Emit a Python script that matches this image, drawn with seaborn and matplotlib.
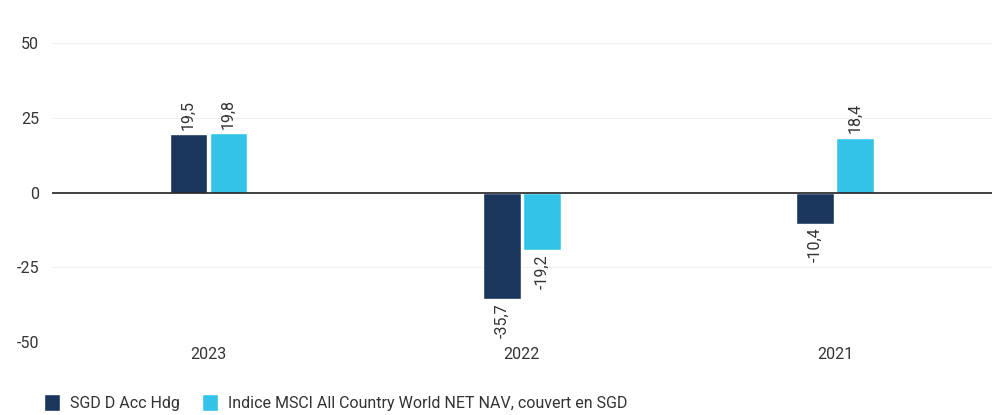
import pandas as pd
import matplotlib
matplotlib.use("Agg")
import matplotlib.pyplot as plt
import seaborn as sns

years = ["2023", "2022", "2021"]
fund_name = "SGD D Acc Hdg"
index_name = "Indice MSCI All Country World NET NAV, couvert en SGD"
fund_values = [19.5, -35.7, -10.4]
index_values = [19.8, -19.2, 18.4]
y_ticks = [-50, -25, 0, 25, 50]

colors = ["#1b365d", "#33c3e8"]

df = pd.DataFrame({
    "year": years * 2,
    "value": fund_values + index_values,
    "series": [fund_name] * 3 + [index_name] * 3,
})

sns.set_theme(style="white")
plt.rcParams["font.family"] = ["Roboto", "DejaVu Sans"]
plt.rcParams["axes.unicode_minus"] = False

fig = plt.figure(figsize=(9.92, 4.15), dpi=100)
ax = fig.add_axes([0.052, 0.176, 0.948, 0.72])

sns.barplot(data=df, x="year", y="value", hue="series", order=years,
            hue_order=[fund_name, index_name], palette=colors,
            width=0.255, gap=0.06, saturation=1, ax=ax, legend=True)

ax.set_xlim(-0.5, 2.5)
ax.set_ylim(-50, 50)
ax.set_yticks(y_ticks)
ax.yaxis.grid(True, color="#efefef", linewidth=0.8)
ax.set_axisbelow(True)
ax.axhline(0, color="#222222", linewidth=1.2, zorder=3)
for s in ax.spines.values():
    s.set_visible(False)
ax.tick_params(axis="both", length=0, labelsize=11.5, colors="#333333")
ax.tick_params(axis="y", pad=9)
ax.set_xlabel("")
ax.set_ylabel("")

for cont in ax.containers:
    for bar in cont:
        v = bar.get_height()
        x = bar.get_x() + bar.get_width() / 2
        txt = f"{v:.1f}".replace(".", ",")
        ax.annotate(txt, (x, v), xytext=(0, 3 if v >= 0 else -3),
                    textcoords="offset points", rotation=90,
                    ha="center", va="bottom" if v >= 0 else "top",
                    fontsize=11.5, color="#333333")

ax.legend(loc="upper left", bbox_to_anchor=(-0.023, -0.125), ncol=2, frameon=False,
          fontsize=11.5, handlelength=1.0, handleheight=1.3, columnspacing=1.4,
          handletextpad=0.6, labelcolor="#333333")

fig.savefig("out.png", dpi=100)
